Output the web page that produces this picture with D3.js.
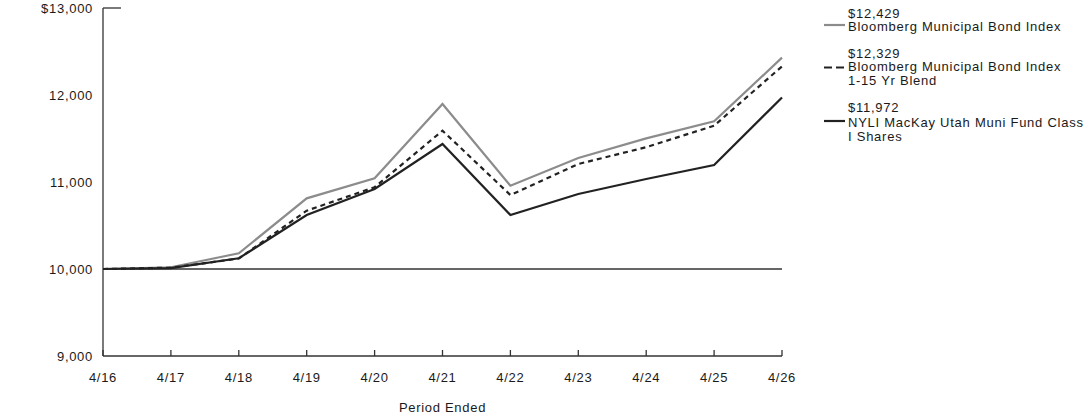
<!DOCTYPE html>
<html lang="en">
<head>
<meta charset="utf-8">
<title></title>
<script src="https://d3js.org/d3.v7.min.js"></script>
<style>
body { margin: 0; background: #fff; }
text { font-family: "Liberation Sans", Arial, sans-serif; fill: #1a1a1a; }
.tick-label { font-size: 13px; letter-spacing: 0.7px; }
.legend { font-size: 13px; letter-spacing: 0.75px; }
</style>
</head>
<body>
<div class="chart"></div>
<script>
var periods = ["4/16","4/17","4/18","4/19","4/20","4/21","4/22","4/23","4/24","4/25","4/26"];
var muniIndex = [10000, 10020, 10180, 10812, 11042, 11897, 10958, 11276, 11502, 11698, 12429];
var blendIndex = [10000, 10015, 10120, 10670, 10940, 11590, 10850, 11207, 11400, 11647, 12329];
var fundShares = [10000, 10010, 10123, 10621, 10920, 11437, 10621, 10862, 11034, 11195, 11972];
var yTicks = [9000, 10000, 11000, 12000, 13000];

var series = [
  {label: ["$12,429", "Bloomberg Municipal Bond Index"], values: muniIndex, color: "#8c8c8c", dash: null},
  {label: ["$12,329", "Bloomberg Municipal Bond Index", "1-15 Yr Blend"], values: blendIndex, color: "#222", dash: "5,4"},
  {label: ["$11,972", "NYLI MacKay Utah Muni Fund Class", "I Shares"], values: fundShares, color: "#222", dash: null}
];

var width = 1092, height = 417;
var plotLeft = 103, plotRight = 782, plotTop = 8, plotBottom = 356;

var svg = d3.select(".chart").append("svg")
  .attr("width", width)
  .attr("height", height);

var x = d3.scalePoint().domain(periods).range([plotLeft, plotRight]);
var y = d3.scaleLinear().domain([9000, 13000]).range([plotBottom, plotTop]);

// axes
svg.append("line").attr("x1", plotLeft).attr("x2", plotLeft).attr("y1", plotTop).attr("y2", plotBottom)
  .attr("stroke", "#333").attr("stroke-width", 1.3);
svg.append("line").attr("x1", plotLeft).attr("x2", plotRight).attr("y1", plotBottom).attr("y2", plotBottom)
  .attr("stroke", "#333").attr("stroke-width", 1.3);
svg.append("line").attr("x1", plotLeft).attr("x2", plotLeft + 18).attr("y1", y(13000)).attr("y2", y(13000))
  .attr("stroke", "#333").attr("stroke-width", 1.3);
svg.append("line").attr("x1", plotLeft).attr("x2", plotRight).attr("y1", y(10000)).attr("y2", y(10000))
  .attr("stroke", "#333").attr("stroke-width", 1.3);

svg.selectAll(".xtick").data(periods).enter().append("line")
  .attr("x1", function(d){ return x(d); }).attr("x2", function(d){ return x(d); })
  .attr("y1", plotBottom).attr("y2", plotBottom - 6)
  .attr("stroke", "#333").attr("stroke-width", 1.3);

svg.selectAll(".xlabel").data(periods).enter().append("text")
  .attr("class", "tick-label")
  .attr("x", function(d){ return x(d); })
  .attr("y", plotBottom + 25.5)
  .attr("text-anchor", "middle")
  .text(function(d){ return d; });

svg.selectAll(".ylabel").data(yTicks).enter().append("text")
  .attr("class", "tick-label")
  .attr("x", plotLeft - 10)
  .attr("y", function(d){ return y(d) + 4.5; })
  .attr("text-anchor", "end")
  .text(function(d){ return (d == 13000 ? "$" : "") + d3.format(",")(d); });

svg.append("text").attr("class", "tick-label")
  .attr("x", (plotLeft + plotRight) / 2).attr("y", 412)
  .attr("text-anchor", "middle")
  .text("Period Ended");

var line = d3.line()
  .x(function(d, i){ return x(periods[i]); })
  .y(function(d){ return y(d); });

series.forEach(function(s) {
  svg.append("path")
    .attr("d", line(s.values))
    .attr("fill", "none")
    .attr("stroke", s.color)
    .attr("stroke-width", 2.2)
    .attr("stroke-dasharray", s.dash);
});

// legend
var legendBase = [17.5, 57.5, 112];
var legendMark = [25, 67.5, 121];
var legendStep = [13.5, 13.8, 14.5];
series.forEach(function(s, i) {
  svg.append("line").attr("x1", 824).attr("x2", 845).attr("y1", legendMark[i]).attr("y2", legendMark[i])
    .attr("stroke", s.color).attr("stroke-width", 2.2).attr("stroke-dasharray", s.dash ? "8,4" : null);
  s.label.forEach(function(t, j) {
    svg.append("text").attr("class", "legend")
      .attr("x", 848).attr("y", legendBase[i] + j * legendStep[i])
      .text(t);
  });
});
</script>
</body>
</html>
